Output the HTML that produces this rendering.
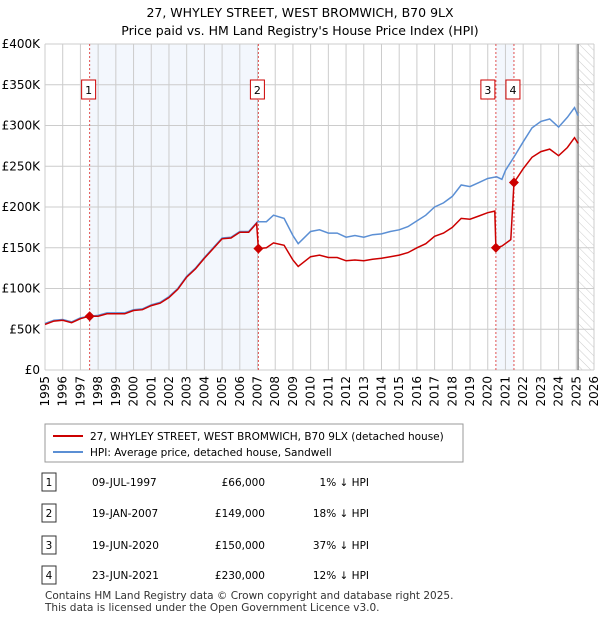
<!DOCTYPE html>
<html><head><meta charset="utf-8"><style>
body{margin:0;background:#fff;font-family:"Liberation Sans","DejaVu Sans",sans-serif;}
svg text{font-family:"DejaVu Sans","Liberation Sans",sans-serif;}
</style></head><body>
<svg id="c" width="600" height="620" xmlns="http://www.w3.org/2000/svg">
<defs><pattern id="hatch" width="6" height="6" patternUnits="userSpaceOnUse" patternTransform="rotate(-45)"><line x1="0" y1="0" x2="0" y2="6" stroke="#ccc" stroke-width="1"/></pattern></defs>
<text x="300" y="17" text-anchor="middle" font-size="12.5">27, WHYLEY STREET, WEST BROMWICH, B70 9LX</text>
<text x="300" y="35" text-anchor="middle" font-size="12.5">Price paid vs. HM Land Registry's House Price Index (HPI)</text>
<g id="plot"></g>
<g id="legend">
<rect x="45" y="424" width="418" height="38" fill="#fff" stroke="#999"/>
<line x1="53" y1="436" x2="83" y2="436" stroke="#cc0000" stroke-width="2"/>
<text x="90" y="440" font-size="10.5">27, WHYLEY STREET, WEST BROMWICH, B70 9LX (detached house)</text>
<line x1="53" y1="452" x2="83" y2="452" stroke="#5b8fd4" stroke-width="2"/>
<text x="90" y="456" font-size="10.5">HPI: Average price, detached house, Sandwell</text>
</g>
<g id="table" font-size="10.5"></g>
<text x="45" y="599" font-size="10.5" fill="#333">Contains HM Land Registry data © Crown copyright and database right 2025.</text>
<text x="45" y="611" font-size="10.5" fill="#333">This data is licensed under the Open Government Licence v3.0.</text>
</svg>
<script>
const hpiX=[1995,1995.5,1996,1996.5,1997,1997.5,1998,1998.5,1999,1999.5,2000,2000.5,2001,2001.5,2002,2002.5,2003,2003.5,2004,2004.5,2005,2005.5,2006,2006.5,2007,2007.5,2007.9,2008.5,2009,2009.3,2010,2010.5,2011,2011.5,2012,2012.5,2013,2013.5,2014,2014.5,2015,2015.5,2016,2016.5,2017,2017.5,2018,2018.5,2019,2019.5,2020,2020.5,2020.8,2021,2021.5,2022,2022.5,2023,2023.5,2024,2024.5,2024.9,2025.1];
const hpiY=[57,61,62,59,64,66,67,70,70,70,74,75,80,83,90,100,115,125,138,150,162,163,170,170,182,182,190,186,165,155,170,172,168,168,163,165,163,166,167,170,172,176,183,190,200,205,213,227,225,230,235,237,234,245,262,280,297,305,308,298,310,322,312];
const ppX=[1995,1995.5,1996,1996.5,1997,1997.5,1998,1998.5,1999,1999.5,2000,2000.5,2001,2001.5,2002,2002.5,2003,2003.5,2004,2004.5,2005,2005.5,2006,2006.5,2006.95,2007.05,2007.5,2007.9,2008.5,2009,2009.3,2010,2010.5,2011,2011.5,2012,2012.5,2013,2013.5,2014,2014.5,2015,2015.5,2016,2016.5,2017,2017.5,2018,2018.5,2019,2019.5,2020,2020.4,2020.46,2020.8,2021.3,2021.48,2022,2022.5,2023,2023.5,2024,2024.5,2024.9,2025.1];
const ppY=[56,60,61,58,63,66,66,69,69,69,73,74,79,82,89,99,114,124,137,149,161,162,169,169,180,149,150,156,153,135,127,139,141,138,138,134,135,134,136,137,139,141,144,150,155,164,168,175,186,185,189,193,195,150,152,160,230,247,261,268,271,263,273,285,278];
const saleX=[1997.52,2007.05,2020.46,2021.48];
const saleY=[66,149,150,230];
const saleLabels=["1","2","3","4"];
const saleDates=["09-JUL-1997","19-JAN-2007","19-JUN-2020","23-JUN-2021"];
const salePrices=["£66,000","£149,000","£150,000","£230,000"];
const saleHpi=["1% ↓ HPI","18% ↓ HPI","37% ↓ HPI","12% ↓ HPI"];
const yTicks=[0,50,100,150,200,250,300,350,400];
const yTickLabels=["£0","£50K","£100K","£150K","£200K","£250K","£300K","£350K","£400K"];
const xYears=[1995,1996,1997,1998,1999,2000,2001,2002,2003,2004,2005,2006,2007,2008,2009,2010,2011,2012,2013,2014,2015,2016,2017,2018,2019,2020,2021,2022,2023,2024,2025,2026];

const L=45,R=594,T=44,B=370;
const xs=v=>L+(v-1995)/31*(R-L);
const ys=v=>B-v/400*(B-T);
const NS="http://www.w3.org/2000/svg";
const plot=document.getElementById('plot');
function mk(tag,attrs,parent){const e=document.createElementNS(NS,tag);for(const k in attrs)e.setAttribute(k,attrs[k]);(parent||plot).appendChild(e);return e;}
let e;
e=mk('rect',{x:L,y:T,width:R-L,height:B-T,fill:'#fff'});


e=mk('rect',{x:xs(saleX[0]),y:T,width:xs(saleX[1])-xs(saleX[0]),height:B-T,fill:'#eef3fc',opacity:0.7});


e=mk('rect',{x:xs(saleX[2]),y:T,width:xs(saleX[3])-xs(saleX[2]),height:B-T,fill:'#eef3fc',opacity:0.7});


e=mk('rect',{x:xs(2025.1),y:T,width:R-xs(2025.1),height:B-T,fill:'url(#hatch)'});


xYears.forEach(y=>{e=mk('line',{x1:xs(y),x2:xs(y),y1:T,y2:B,stroke:'#ccc'});


e=mk('text',{x:0,y:0,'font-size':12,'text-anchor':'end',transform:`translate(${xs(y)+4},${B+6}) rotate(-90)`});e.textContent=y;

});
yTicks.forEach((v,i)=>{e=mk('line',{x1:L,x2:R,y1:ys(v),y2:ys(v),stroke:'#ccc'});


e=mk('text',{x:L-5,y:ys(v)+4,'font-size':12,'text-anchor':'end'});e.textContent=yTickLabels[i];

});
e=mk('line',{x1:xs(2025.1),x2:xs(2025.1),y1:T,y2:B,stroke:'#888','stroke-width':1.5});


saleX.forEach((x,i)=>{e=mk('line',{x1:xs(x),x2:xs(x),y1:T,y2:B,stroke:'#e05050','stroke-dasharray':'2,2'});

});
const pts=(X,Y)=>X.map((x,i)=>xs(x).toFixed(1)+','+ys(Y[i]).toFixed(1)).join(' ');
e=mk('polyline',{points:pts(hpiX,hpiY),fill:'none',stroke:'#5b8fd4','stroke-width':1.5});


e=mk('polyline',{points:pts(ppX,ppY),fill:'none',stroke:'#cc0000','stroke-width':1.5});


saleX.forEach((x,i)=>{const cx=xs(x),cy=ys(saleY[i]);
e=mk('polygon',{points:`${cx},${cy-5} ${cx+5},${cy} ${cx},${cy+5} ${cx-5},${cy}`,fill:'#cc0000'});


const bx=i==2?cx-15:(i==3?cx-8:cx-8);
e=mk('rect',{x:bx,y:80,width:14,height:19,fill:'#fff',stroke:'#cc0000'});


e=mk('text',{x:bx+7,y:94,'font-size':11,'text-anchor':'middle'});e.textContent=saleLabels[i];

});
const tb=document.getElementById('table');
const rowY=[482,513,545,575];
saleLabels.forEach((l,i)=>{const y=rowY[i];
e=mk('rect',{x:42,y:y-9,width:14,height:18,fill:'#fff',stroke:'#333'},tb);


e=mk('text',{x:49,y:y+4,'text-anchor':'middle'},tb);e.textContent=l;


e=mk('text',{x:92,y:y+4},tb);e.textContent=saleDates[i];


e=mk('text',{x:265,y:y+4,'text-anchor':'end'},tb);e.textContent=salePrices[i];


e=mk('text',{x:369,y:y+4,'text-anchor':'end'},tb);e.textContent=saleHpi[i];

});
</script>
</body></html>
